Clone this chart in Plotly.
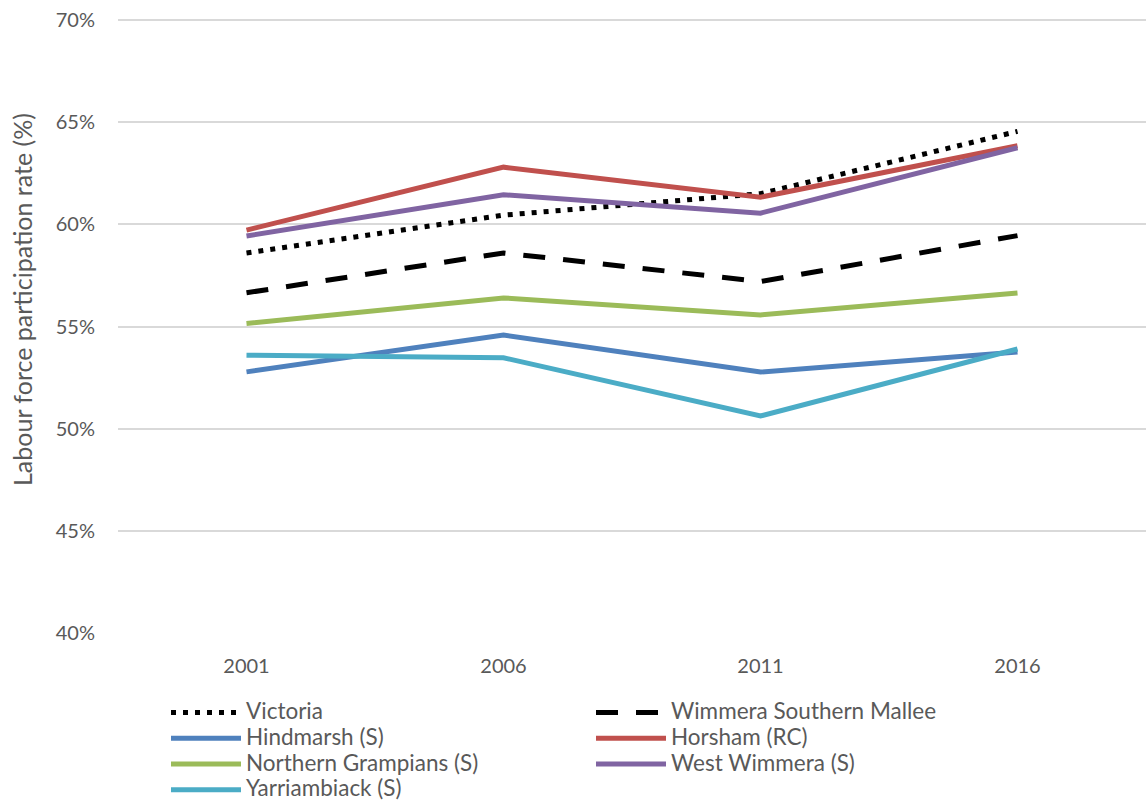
import plotly.graph_objects as go

years = ["2001", "2006", "2011", "2016"]
series_names = ["Victoria", "Wimmera Southern Mallee", "Hindmarsh (S)", "Horsham (RC)",
                "Northern Grampians (S)", "West Wimmera (S)", "Yarriambiack (S)"]
victoria = [58.6, 60.45, 61.5, 64.55]
wimmera_sm = [56.65, 58.6, 57.2, 59.45]
hindmarsh = [52.78, 54.58, 52.77, 53.75]
horsham = [59.72, 62.8, 61.33, 63.85]
northern_grampians = [55.15, 56.4, 55.57, 56.64]
west_wimmera = [59.43, 61.45, 60.55, 63.75]
yarriambiack = [53.6, 53.47, 50.62, 53.9]
y_title = "Labour force participation rate (%)"

values = [victoria, wimmera_sm, hindmarsh, horsham, northern_grampians, west_wimmera, yarriambiack]
colors = ["#000000", "#000000", "#4F81BD", "#C0504D", "#9BBB59", "#8064A2", "#4BACC6"]
dashes = ["5px,7px", "22px,18px", "solid", "solid", "solid", "solid", "solid"]

FONT = "Lato"
TXT = "#595959"
W, H = 1146, 800
ML, MR, MT, MB = 118, 0, 18, 167
PW, PH = W - ML - MR, H - MT - MB

fig = go.Figure()
for name, vals, col, dash in zip(series_names, values, colors, dashes):
    fig.add_trace(go.Scatter(
        x=years, y=vals, name='<span style="font-size:22.5px">' + name + '</span>',
        mode="lines", line=dict(color=col, width=5, dash=dash),
        hovertemplate=name + " %{x}: %{y:.1f}%<extra></extra>",
    ))

fig.update_layout(
    width=W, height=H,
    margin=dict(l=ML, r=MR, t=MT, b=MB, autoexpand=False),
    paper_bgcolor="white", plot_bgcolor="white",
    font=dict(family=FONT, size=20, color=TXT),
    showlegend=True,
    legend=dict(
        orientation="h", x=(166 - ML) / PW, y=-0.1, xanchor="left", yanchor="top",
        entrywidth=340, entrywidthmode="pixels", itemwidth=70,
        font=dict(family=FONT, size=17.5, color=TXT),
        tracegroupgap=0, traceorder="normal",
    ),
    xaxis=dict(
        type="category", range=[-0.5, 3.5], showgrid=False, zeroline=False,
        showline=False, ticks="", ticklabelstandoff=19, automargin=False,
        tickfont=dict(family=FONT, size=20, color=TXT),
    ),
    yaxis=dict(
        range=[40, 70.1], dtick=5, tick0=40, ticksuffix="%",
        showgrid=True, gridcolor="#D9D9D9", gridwidth=2, zeroline=False,
        showline=False, ticks="", ticklabelstandoff=22, automargin=False,
        tickfont=dict(family=FONT, size=20, color=TXT),
    ),
    annotations=[dict(
        text=y_title, textangle=-90, showarrow=False,
        xref="paper", yref="paper", x=(22 - ML) / PW, y=(MT + PH - 300) / PH,
        xanchor="center", yanchor="middle",
        font=dict(family=FONT, size=25, color=TXT),
    )],
)

fig.write_html("out.html", config={"displayModeBar": False},
               post_script="document.body.style.margin='0';")
